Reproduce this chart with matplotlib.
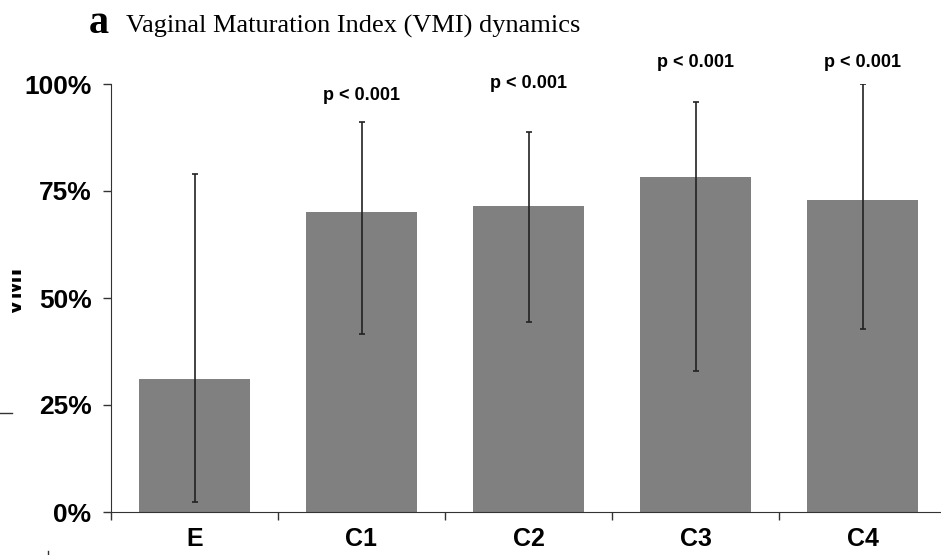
import matplotlib
matplotlib.use('Agg')
from matplotlib import pyplot as plt
from matplotlib.transforms import Bbox

# data
groups = ['E', 'C1', 'C2', 'C3', 'C4']
vmi_mean = [0.311, 0.700, 0.715, 0.782, 0.728]
err_low = [0.023, 0.416, 0.444, 0.330, 0.428]
err_high = [0.790, 0.912, 0.889, 0.957, 1.000]
p_labels = ['', 'p < 0.001', 'p < 0.001', 'p < 0.001', 'p < 0.001']
p_heights = [0, 0.972, 1.000, 1.051, 1.051]
yticks = [0, 0.25, 0.5, 0.75, 1.0]
ytick_labels = ['0%', '25%', '50%', '75%', '100%']

W, H = 941, 555
fig = plt.figure(figsize=(W / 100, H / 100), dpi=100)
# axes placed in pixel units
x0, x1 = 111, 946
y0, y1 = 512, 84
ax = fig.add_axes([x0 / W, (H - y0) / H, (x1 - x0) / W, (y0 - y1) / H])

x = list(range(len(groups)))
lo = [m - l for m, l in zip(vmi_mean, err_low)]
hi = [h - m for m, h in zip(vmi_mean, err_high)]
ax.bar(x, vmi_mean, width=0.66, color='#808080', zorder=2)
ax.errorbar(x, vmi_mean, yerr=[lo, hi], fmt='none', ecolor='#222222',
            elinewidth=1.2, capsize=2, capthick=1.2, zorder=3)

for xi, lab, yh in zip(x, p_labels, p_heights):
    if lab:
        ax.text(xi, yh, lab, ha='center', va='center', fontsize=13,
                fontweight='bold', family='Liberation Sans', clip_on=False)

ax.set_xlim(-0.5, 4.5)
ax.set_ylim(0, 1.0)
ax.set_yticks(yticks)
ax.set_yticklabels(ytick_labels, fontsize=19, fontweight='bold', family='Liberation Sans')
ax.set_xticks(x)
ax.set_xticklabels(groups, fontsize=18, fontweight='bold', family='Liberation Sans')
ax.tick_params(axis='x', length=0, pad=11)
ax.set_xticks([i + 0.5 for i in range(-1, len(groups))], minor=True)
ax.tick_params(axis='x', which='minor', length=6, width=1, color='#333333')
ax.tick_params(axis='y', length=6, width=1, color='#333333', pad=8)

for s in ['top', 'right']:
    ax.spines[s].set_visible(False)
ax.spines['left'].set_color('#333333')
ax.spines['bottom'].set_color('#333333')

# y label, only its right part shows in the source (cropped)
ylab = fig.text(28 / W, (H - 291) / H, 'VMI', rotation=90, ha='right', va='center',
                fontsize=20, fontweight='bold', family='Liberation Sans')
ylab.set_clip_box(Bbox.from_extents(12, 0, 60, H))
ylab.set_clip_on(True)
fig.add_artist(plt.Line2D([0, 12 / W], [(H - 413) / H] * 2, color='#333333', lw=1))
fig.add_artist(plt.Line2D([48 / W] * 2, [0, 4 / H], color='#333333', lw=1))

# panel title
fig.text(89 / W, (H - 33) / H, 'a', fontsize=29, fontweight='bold',
         family='Liberation Serif', va='baseline')
fig.text(126 / W, (H - 33) / H, 'Vaginal Maturation Index (VMI) dynamics',
         fontsize=19, family='Liberation Serif', va='baseline')

plt.savefig('out.png', dpi=100)
